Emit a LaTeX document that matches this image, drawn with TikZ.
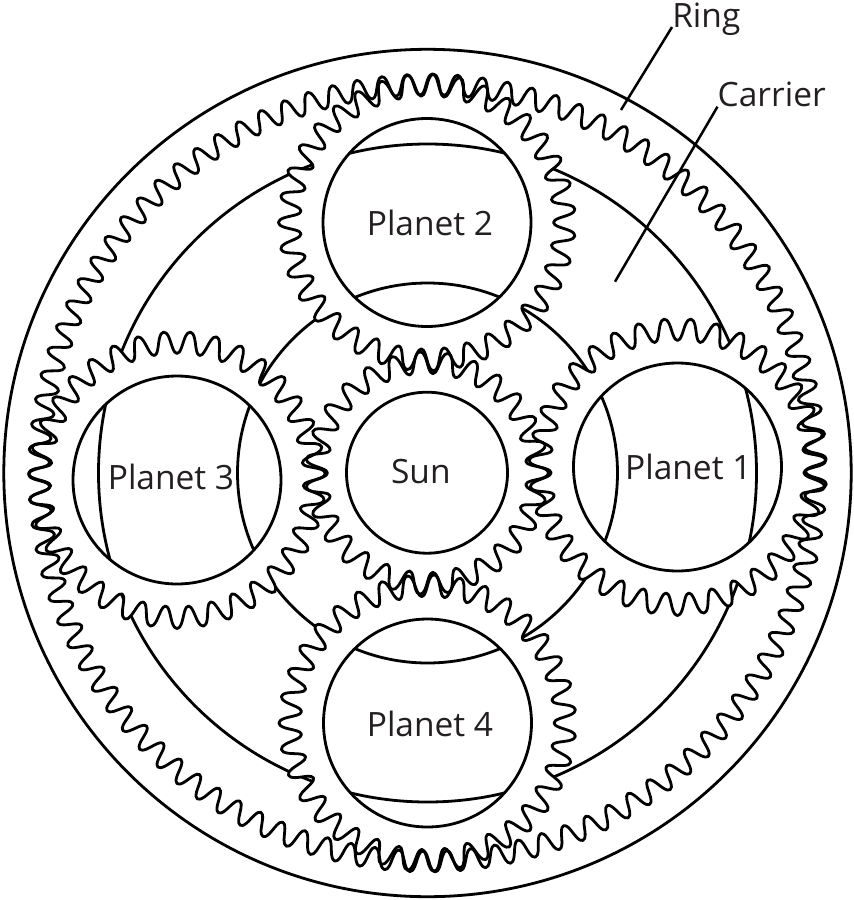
\documentclass[tikz,border=0pt]{standalone}
\usepackage{fontspec}
\setmainfont{Open Sans}
\definecolor{inkline}{HTML}{000000}
\definecolor{inktext}{HTML}{231F20}
\tikzset{
  gearline/.style={draw=inkline,line width=2.8pt,line join=round},
  plainline/.style={draw=inkline,line width=2.8pt},
  leader/.style={draw=inkline,line width=2.5pt},
  lbl/.style={text=inktext,font=\fontsize{33.5}{35}\selectfont,inner sep=0pt,anchor=base}
}
% #1 cx, #2 cy, #3 mean radius, #4 amplitude, #5 teeth, #6 crest angle
\newcommand{\gearplot}[6]{plot[domain=0:#5,samples=\numexpr #5*12+1\relax,variable=\t,smooth]
  ({#1+(#3+#4*cos(360*frac(\t)))*cos(#6+\t*(360/#5)+(7/#5)*sin(720*frac(\t)))},
   {#2-(#3+#4*cos(360*frac(\t)))*sin(#6+\t*(360/#5)+(7/#5)*sin(720*frac(\t)))}) -- cycle}
\begin{document}
\begin{tikzpicture}[x=1pt,y=-1pt]
\useasboundingbox (0,0) rectangle (854,900);
\coordinate (cc) at (427.5,473);
% carrier circles
\draw[plainline] (cc) circle (329pt);
\draw[plainline] (cc) circle (190pt);
% planet webs hide the carrier, which stays visible through the holes
\fill[white,even odd rule] \gearplot{677.5}{467}{137.5}{11}{35}{270} (677.5,467) circle (104pt);
\fill[white,even odd rule] \gearplot{427}{222.5}{137.5}{11}{35}{180} (427,222.5) circle (104pt);
\fill[white,even odd rule] \gearplot{177}{480}{137.5}{11}{35}{270} (177,480) circle (104pt);
\fill[white,even odd rule] \gearplot{427.5}{723}{137.5}{11}{35}{180} (427.5,723) circle (104pt);
% outer casing and ring gear
\draw[plainline] (cc) circle (423.7pt);
\draw[gearline] \gearplot{427.5}{473}{388.5}{10.5}{99}{89.3};
% planets
\draw[gearline] \gearplot{677.5}{467}{137.5}{11}{35}{270};
\draw[gearline] \gearplot{427}{222.5}{137.5}{11}{35}{180};
\draw[gearline] \gearplot{177}{480}{137.5}{11}{35}{270};
\draw[gearline] \gearplot{427.5}{723}{137.5}{11}{35}{180};
\draw[plainline] (677.5,467) circle (104pt);
\draw[plainline] (427,222.5) circle (104pt);
\draw[plainline] (177,480) circle (104pt);
\draw[plainline] (427.5,723) circle (104pt);
% sun
\draw[gearline] \gearplot{427}{473}{110.5}{11}{27}{0};
\draw[plainline] (427,472.7) circle (80.5pt);
% labels
\node[lbl] (p1) at (688.3,479.3) {Planet 1};
\node[lbl] (p2) at (430,235) {Planet 2};
\node[lbl] (p3) at (171,489.3) {Planet 3};
\node[lbl] (p4) at (430,736.7) {Planet 4};
\node[lbl] (sun) at (420.8,483.3) {Sun};
\node[lbl] (ringl) at (706.3,27) {Ring};
\node[lbl] (carrierl) at (771.7,106.7) {Carrier};
% leaders
\coordinate (ringtip) at (621,110);
\coordinate (carriertip) at (615,281.7);
\draw[leader] (ringl.base west) -- (ringtip);
\draw[leader] (carrierl.base west) -- (carriertip);
\end{tikzpicture}
\end{document}
